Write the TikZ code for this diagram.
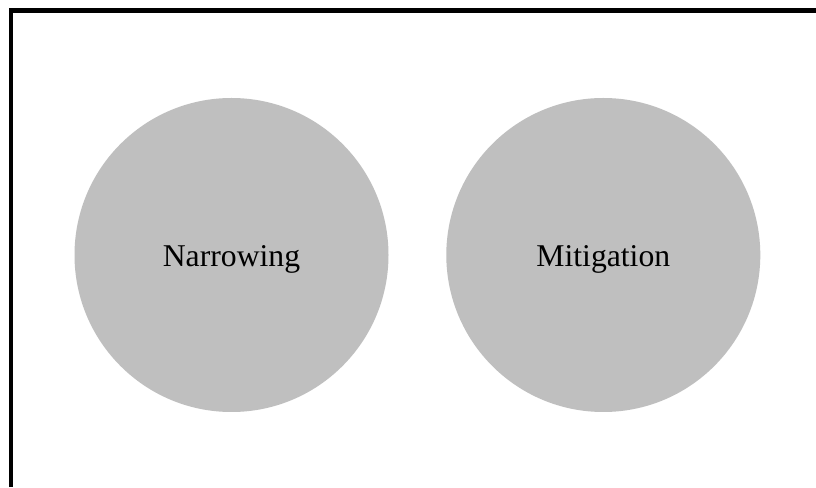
\documentclass[tikz,border=0pt]{standalone}
\usepackage{fontspec}
\setmainfont{Liberation Serif}

\tikzset{
	topic/.style={circle, fill=lightgray, draw=none, minimum size=314pt, inner sep=0pt,
		font=\fontsize{31.7}{38}\selectfont, text height=23.4pt, text depth=0pt},
	frameline/.style={line width=4.3pt, black}
}

\begin{document}
\begin{tikzpicture}[x=1pt, y=1pt]
					\useasboundingbox (0,0) rectangle (816,487);
					\fill [white](0,0)rectangle(816,487);

					% open frame, cut by the page at right and bottom
					\coordinate (framebot) at (11,0);
					\coordinate (framecorner) at (11,476.5);
					\coordinate (frameright) at (816,476.5);
					\draw [frameline](framebot)--(framecorner)--(frameright);

					\node [topic] (narrowing) at (231.5,232) {Narrowing};
					\node [topic] (mitigation) at (603.3,232) {Mitigation};

				\end{tikzpicture}
\end{document}
